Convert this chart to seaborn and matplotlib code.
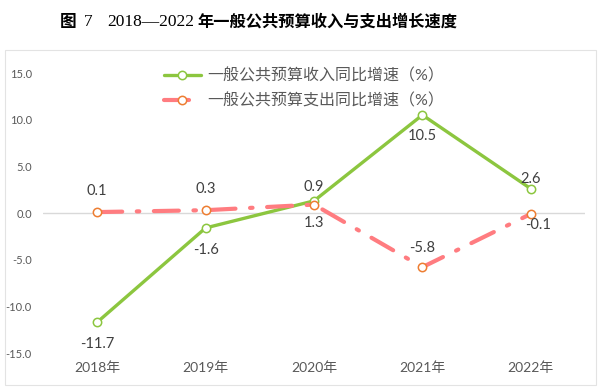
import pandas as pd
import matplotlib
matplotlib.use("Agg")
import matplotlib.pyplot as plt
import seaborn as sns
from matplotlib.patches import Rectangle

years = ["2018年", "2019年", "2020年", "2021年", "2022年"]
revenue = [-11.7, -1.6, 1.3, 10.5, 2.6]
spending = [0.1, 0.3, 0.9, -5.8, -0.1]
revenue_name = "一般公共预算收入同比增速（%）"
spending_name = "一般公共预算支出同比增速（%）"

# label offsets in points (dx, dy) for each data label
rev_offsets = [(0, -16), (0, -16), (0, -16), (0, -15), (0, 7)]
spe_offsets = [(0, 15), (0, 15), (0, 13), (0, 14), (5, -8)]

sns.set_theme(style="white")
plt.rcParams['font.family'] = ['Lato', 'Noto Sans CJK SC', 'DejaVu Sans']

GREEN = "#8CC63F"
RED = "#FF7C80"
ORANGE = "#ED7D31"
TXT = "#595959"

df = pd.DataFrame({"year": years, "revenue": revenue, "spending": spending})

fig = plt.figure(figsize=(6.0, 3.89), dpi=100)
ax = fig.add_axes([43/600, 1 - 353/389, 542/600, 280/389])

# outer light border
fig.patches.append(Rectangle((5/600, 1 - 385/389), 591/600, 335/389,
                             transform=fig.transFigure, fill=False,
                             edgecolor="#e3e3e3", linewidth=0.8))

ax.axhline(0, color="#d9d9d9", linewidth=1.0, zorder=0)

sns.lineplot(data=df, x="year", y="revenue", ax=ax, color=GREEN, linewidth=2.4,
             marker="o", markersize=6, markerfacecolor="white",
             markeredgecolor=GREEN, markeredgewidth=1.1, label=revenue_name, sort=False)
sns.lineplot(data=df, x="year", y="spending", ax=ax, color=RED, linewidth=3.0,
             linestyle=(0, (6, 3.5, 0.6, 3.5)), dash_capstyle="round",
             marker="o", markersize=6, markerfacecolor="white",
             markeredgecolor=ORANGE, markeredgewidth=1.1, label=spending_name, sort=False)

for i, v in enumerate(revenue):
    ax.annotate(f"{v:.1f}", (i, v), xytext=rev_offsets[i], textcoords="offset points",
                ha="center", va="center", fontsize=10.5, color="#404040")
for i, v in enumerate(spending):
    ax.annotate(f"{v:.1f}", (i, v), xytext=spe_offsets[i], textcoords="offset points",
                ha="center", va="center", fontsize=10.5, color="#404040")

ax.set_xlim(-0.5, 4.5)
ax.set_ylim(-15, 15)
ax.set_yticks([-15, -10, -5, 0, 5, 10, 15])
ax.set_yticklabels([f"{t:.1f}" for t in [-15, -10, -5, 0, 5, 10, 15]])
ax.tick_params(axis="y", labelsize=8, colors=TXT, length=0, pad=8)
ax.tick_params(axis="x", labelsize=10, colors=TXT, length=0, pad=6)
ax.set_xlabel("")
ax.set_ylabel("")
for s in ax.spines.values():
    s.set_visible(False)
ax.patch.set_alpha(0)

ax.get_legend().remove()
handles, labels = ax.get_legend_handles_labels()
leg = fig.legend(handles, labels, loc="upper left", bbox_to_anchor=(156/600, 1 - 60/389),
                 frameon=False, fontsize=11.5, handlelength=2.3, labelspacing=0.6,
                 handletextpad=0.4, borderpad=0)
for t in leg.get_texts():
    t.set_color(TXT)

# title in pieces: bold CJK, regular serif digits
ty = 1 - 22/389
cjk = ['Noto Sans CJK SC']
fig.text(60/600, ty, "图", family=cjk, fontweight="bold", fontsize=12,
         ha="left", va="center", color="black")
fig.text(84/600, ty, "7", family=['Liberation Serif'], fontsize=12.5,
         ha="left", va="center", color="black")
fig.text(107/600, ty, "2018—2022", family=['Liberation Serif'], fontsize=12.5,
         ha="left", va="center", color="black")
fig.text(197/600, ty, "年一般公共预算收入与支出增长速度", family=cjk, fontweight="bold",
         fontsize=11.7, ha="left", va="center", color="black")

fig.savefig("out.png", dpi=100, facecolor="white")
